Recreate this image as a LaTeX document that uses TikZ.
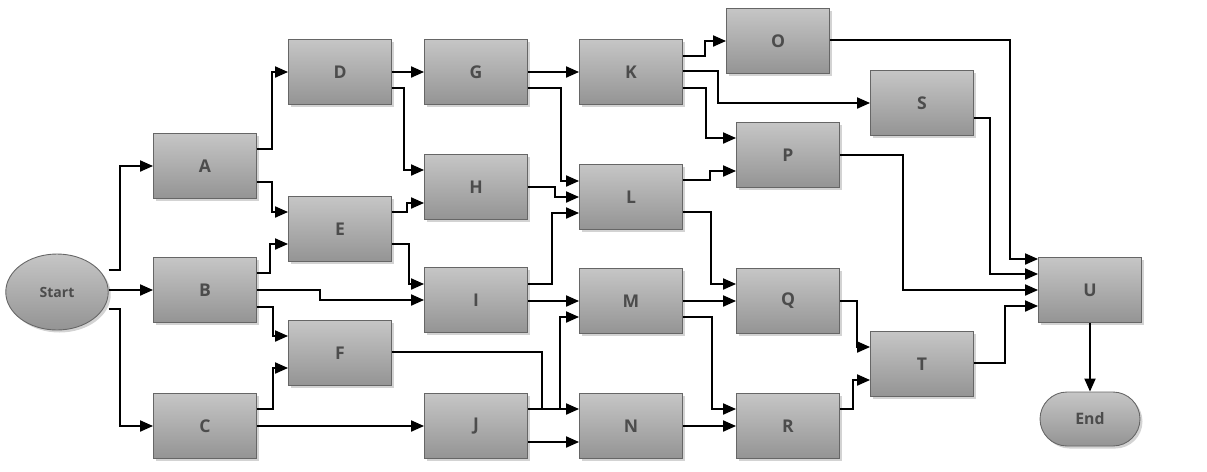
\documentclass[tikz,border=0pt]{standalone}
\usepackage{fontspec}
\setmainfont{Open Sans}
\usetikzlibrary{arrows.meta,shapes.geometric,shadows}
\tikzset{
  box/.style={rectangle,minimum width=2.06cm,minimum height=1.3cm,top color=#1,bottom color=gray!80!black!70,
    draw=black!60,line width=0.5pt,drop shadow={opacity=0.35,shadow xshift=0.05cm,shadow yshift=-0.05cm},
    font=\bfseries\fontsize{10}{12}\selectfont,text=black!70,inner sep=0pt},
  box/.default={gray!45},
  term/.style={box,ellipse,minimum width=2.05cm,minimum height=1.52cm,font=\bfseries\fontsize{8}{10}\selectfont},
  arr/.style={-{Triangle[length=0.26cm,width=0.22cm]},line width=1.1pt,black},
}
\newcommand\elbow[5]{\draw[arr] (#1.east|-0,#2) -| (#3,#4) -- (#5.west|-0,#4);}
\newcommand\straight[3]{\draw[arr] (#1.east|-0,#3) -- (#2.west|-0,#3);}
\begin{document}
\begin{tikzpicture}[x=0.02cm,y=-0.02cm]
\useasboundingbox (0,0) rectangle (1207,471);
\node[term] (Start) at (57,292) {Start};
\node[box,rounded corners=0.54cm,minimum width=2cm,minimum height=1.08cm,font=\bfseries\fontsize{9}{11}\selectfont] (End) at (1090,419) {End};
\foreach \n/\x/\y in {A/205/166,B/205/290,C/205/426,D/340/72,E/340/229,F/340/353,G/476/72,H/476/187,I/476/300,J/476/426,
  K/631/72,L/631/197,M/631/301,N/631/426,O/778/41,P/788/155,Q/788/301,R/788/426,S/922/103,T/922/364,U/1090/290}
  \node[box] (\n) at (\x,\y) {\n};
% Start
\elbow{Start}{270}{120}{166}{A}
\straight{Start}{B}{290}
\elbow{Start}{309}{120}{426}{C}
% A,B,C
\elbow{A}{149}{272}{72}{D}
\elbow{A}{182}{272}{212}{E}
\elbow{B}{273}{270}{244}{E}
\elbow{B}{290}{320}{300}{I}
\elbow{B}{307}{273}{336}{F}
\elbow{C}{409}{273}{368}{F}
\straight{C}{J}{426}
% D,E,F
\straight{D}{G}{72}
\elbow{D}{88}{404}{170}{H}
\elbow{E}{212}{407}{203}{H}
\elbow{E}{244}{409}{284}{I}
\elbow{F}{352}{542}{409}{N}
% G,H,I,J
\straight{G}{K}{72}
\elbow{G}{88}{561}{181}{L}
\elbow{H}{187}{555}{197}{L}
\elbow{I}{284}{552}{213}{L}
\straight{I}{M}{301}
\elbow{J}{409}{560}{317}{M}
\straight{J}{N}{442}
% K,L,M,N
\elbow{K}{56}{705}{41}{O}
\elbow{K}{71}{718}{103}{S}
\elbow{K}{88}{706}{138}{P}
\elbow{L}{180}{710}{171}{P}
\elbow{L}{212}{711}{284}{Q}
\straight{M}{Q}{301}
\elbow{M}{317}{712}{409}{R}
\straight{N}{R}{426}
% O,P,Q,R,S,T
\elbow{O}{40}{1010}{259}{U}
\elbow{S}{118}{990}{274}{U}
\elbow{P}{155}{903}{290}{U}
\elbow{T}{363}{1005}{306}{U}
\elbow{Q}{301}{857}{347}{T}
\elbow{R}{409}{853}{380}{T}
\draw[arr] (U) -- (End);
\end{tikzpicture}
\end{document}
